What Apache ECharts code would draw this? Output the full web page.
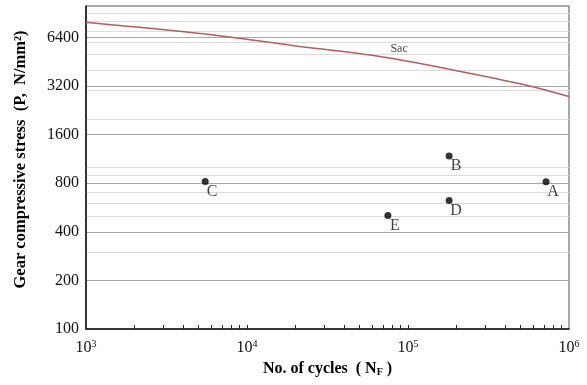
<!DOCTYPE html>
<html>
<head>
<meta charset="utf-8">
<script src="https://cdn.jsdelivr.net/npm/echarts@6/dist/echarts.min.js"></script>
<style>
  html, body { margin: 0; padding: 0; background: #fff; }
  #chart { width: 587px; height: 385px; }
</style>
</head>
<body>
<div id="chart"></div>
<script>
// 试验点 A~E
const pointNames = ['A', 'B', 'C', 'D', 'E'];
const pointCycles = [720000, 180000, 5500, 180000, 75000];
const pointStress = [815, 1180, 820, 625, 505];

// Sac 曲线
const sacCycles = [1000, 5500, 19000, 67000, 190000, 570000, 1000000];
const sacStress = [7930, 6700, 5700, 4860, 4020, 3200, 2750];
const sacLabelAt = [88000, 5420];

// 刻度
const yLabelTicks = [100, 200, 400, 800, 1600, 3200, 6400];
const yMinorGrid = [300, 500, 600, 700, 900, 1000, 2000, 3000, 4000, 5000, 6000, 7000, 8000, 9000];
const xLabelTicks = [1000, 10000, 100000, 1000000];
const xMinorTicks = [2000, 3000, 4000, 5000, 6000, 7000, 8000, 9000, 10000,
  20000, 30000, 40000, 50000, 60000, 70000, 80000, 90000, 100000,
  200000, 300000, 400000, 500000, 600000, 700000, 800000, 900000];

const SERIF = '"Liberation Serif", "DejaVu Serif", serif';

const chart = echarts.init(document.getElementById('chart'), null, { renderer: 'canvas' });

chart.setOption({
  animation: false,
  grid: {
    left: 86, right: 18, top: 6, bottom: 56,
    show: true, borderColor: '#555', borderWidth: 1, backgroundColor: 'transparent'
  },
  xAxis: {
    type: 'log', logBase: 10, min: 1000, max: 1000000,
    name: 'No. of cycles  ( N{sub|F} )',
    nameLocation: 'middle', nameGap: 32,
    nameTextStyle: {
      fontFamily: SERIF, fontWeight: 'bold', fontSize: 16, color: '#000',
      rich: { sub: { fontFamily: SERIF, fontWeight: 'bold', fontSize: 10, color: '#000', verticalAlign: 'bottom', padding: [6, 0, 0, 0] } }
    },
    axisLine: { lineStyle: { color: '#111', width: 1.5 } },
    axisTick: { show: true, inside: true, length: 4, customValues: xMinorTicks, lineStyle: { color: '#222' } },
    axisLabel: {
      customValues: xLabelTicks, margin: 10,
      fontFamily: SERIF, fontSize: 16, color: '#111',
      formatter: (v) => '10{s|' + Math.round(Math.log10(v)) + '}',
      rich: { s: { fontFamily: SERIF, fontSize: 10, color: '#111', verticalAlign: 'top', padding: [0, 0, 8, 0] } }
    },
    splitLine: { show: false }
  },
  yAxis: [
    {
      type: 'log', logBase: 10, min: 100, max: 10000, position: 'left',
      axisLine: { show: false },
      axisTick: { show: false, customValues: yMinorGrid },
      axisLabel: { show: false, customValues: yMinorGrid },
      splitLine: { show: true, lineStyle: { color: '#dcdcdc', width: 1 } }
    },
    {
      type: 'log', logBase: 10, min: 100, max: 10000, position: 'left', offset: 0,
      name: 'Gear compressive stress  (P,  N/mm²)',
      nameLocation: 'middle', nameGap: 57, nameRotate: 90,
      nameTextStyle: { fontFamily: SERIF, fontWeight: 'bold', fontSize: 16.5, color: '#000', padding: [0, 0, 0, 16] },
      axisLine: { show: true, lineStyle: { color: '#111', width: 1.5 } },
      axisTick: { show: false, customValues: yLabelTicks },
      axisLabel: {
        customValues: yLabelTicks, margin: 7, fontFamily: SERIF, fontSize: 16, color: '#111',
        formatter: (v) => String(Math.round(v))
      },
      splitLine: { show: true, lineStyle: { color: '#a8a8a8', width: 1 } }
    }
  ],
  series: [
    {
      name: 'Sac',
      type: 'line',
      yAxisIndex: 1,
      data: sacCycles.map((c, i) => [c, sacStress[i]]),
      smooth: 0.3,
      showSymbol: false,
      lineStyle: { color: '#b0605e', width: 1.5 },
      z: 3
    },
    {
      type: 'scatter',
      yAxisIndex: 1,
      data: [sacLabelAt],
      symbolSize: 0,
      label: { show: true, position: 'inside', formatter: 'Sac', fontFamily: SERIF, fontSize: 12, color: '#111' }
    },
    {
      type: 'scatter',
      yAxisIndex: 1,
      data: pointNames.map((n, i) => ({ name: n, value: [pointCycles[i], pointStress[i]] })),
      symbol: 'circle',
      symbolSize: 7,
      itemStyle: { color: '#000' },
      label: {
        show: true, position: 'inside', offset: [7, 10], formatter: '{b}',
        fontFamily: SERIF, fontSize: 16, color: '#111'
      },
      z: 4
    }
  ]
});
</script>
</body>
</html>
